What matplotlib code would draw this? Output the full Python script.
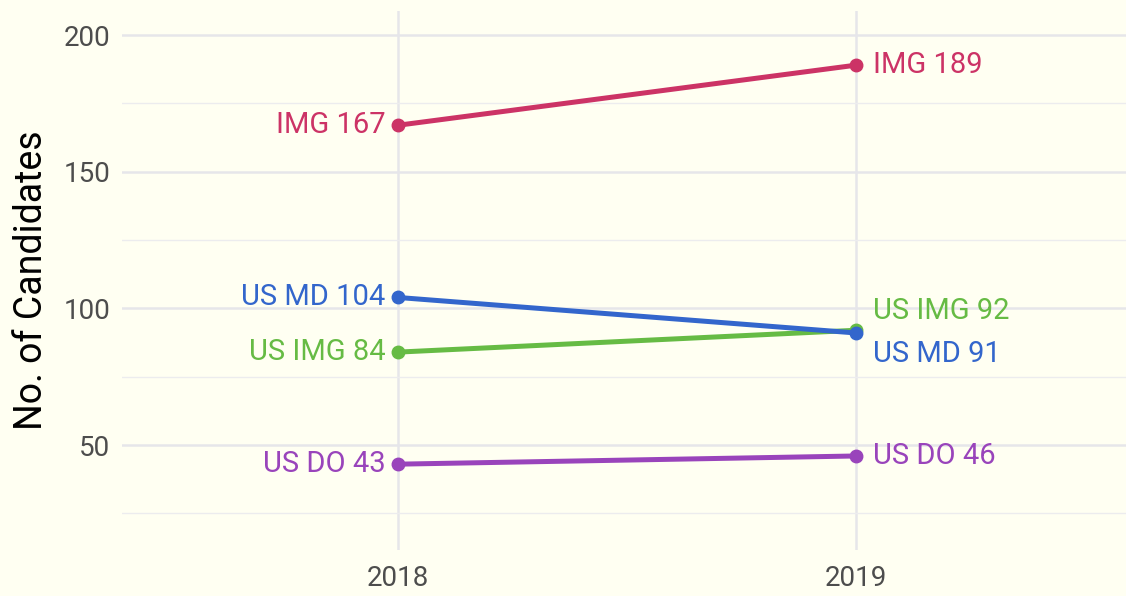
import matplotlib.pyplot as plt
from matplotlib.ticker import MultipleLocator

plt.rcParams['font.family'] = ['Roboto', 'DejaVu Sans']

years = [2018, 2019]
groups = ['IMG', 'US IMG', 'US MD', 'US DO']
img = [167, 189]
us_img = [84, 92]
us_md = [104, 91]
us_do = [43, 46]
colors = ['#cc3366', '#66bb44', '#3366cc', '#9944bb']

# label nudges (points) for the right-hand labels that would overlap
right_nudge = {'US IMG': 14, 'US MD': -15}

bg = '#fffff2'
fig, ax = plt.subplots(figsize=(11.26, 5.96), dpi=100)
fig.patch.set_facecolor(bg)
ax.set_facecolor(bg)
fig.subplots_adjust(left=0.108, right=1.0, top=0.9815, bottom=0.0772)

series = [img, us_img, us_md, us_do]
for name, vals, c in zip(groups, series, colors):
    ax.plot(years, vals, color=c, lw=3.6, marker='o', ms=9, zorder=3,
            solid_capstyle='round')
    ax.annotate(f'{name} {vals[0]}', (years[0], vals[0]), xytext=(-9, 0),
                textcoords='offset points', ha='right', va='center',
                color=c, fontsize=21)
    ax.annotate(f'{name} {vals[1]}', (years[1], vals[1]),
                xytext=(12, right_nudge.get(name, 0)),
                textcoords='offset points', ha='left', va='center',
                color=c, fontsize=21)

ax.set_xlim(2017.397, 2019.589)
ax.set_ylim(11.6, 208.8)
ax.set_xticks(years)
ax.set_xticklabels([str(y) for y in years])
ax.yaxis.set_minor_locator(MultipleLocator(25))
ax.set_yticks([50, 100, 150, 200])

ax.grid(True, which='major', color='#e6e6ea', lw=1.8, zorder=0)
ax.grid(True, which='minor', axis='y', color='#ececee', lw=1.0, zorder=0)
for s in ax.spines.values():
    s.set_visible(False)
ax.tick_params(which='both', length=0, labelsize=20, labelcolor='#4d4d4d')
ax.tick_params(axis='x', pad=11)
ax.tick_params(axis='y', pad=8)
ax.set_ylabel('No. of Candidates', fontsize=27, color='black', labelpad=10)

fig.savefig('out.png', dpi=100, facecolor=bg)
